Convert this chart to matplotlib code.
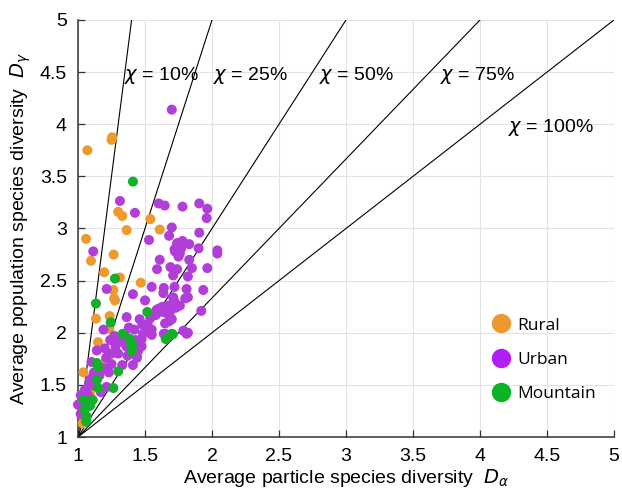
import matplotlib
matplotlib.use("Agg")
import matplotlib.pyplot as plt
import numpy as np
from matplotlib.lines import Line2D

plt.rcParams["font.family"] = ["Liberation Sans", "DejaVu Sans"]
plt.rcParams["mathtext.fontset"] = "dejavusans"

# chi reference lines: D_gamma - 1 = (D_alpha - 1) / chi
chi_values = [0.10, 0.25, 0.50, 0.75, 1.00]
chi_labels = ["10%", "25%", "50%", "75%", "100%"]
chi_label_x = [1.34, 2.01, 2.80, 3.70, 4.21]
chi_label_y = [4.47, 4.47, 4.47, 4.47, 3.97]

rural_x = [1.07, 1.255, 1.25, 1.06, 1.30, 1.33, 1.363, 1.54, 1.61, 1.097,
           1.266, 1.196, 1.313, 1.264, 1.27, 1.468, 1.134, 1.236, 1.234, 1.15,
           1.21, 1.22, 1.04, 1.09, 1.035, 1.035, 1.276]
rural_y = [3.75, 3.875, 3.85, 2.90, 3.16, 3.12, 2.985, 3.09, 2.99, 2.69,
           2.75, 2.58, 2.53, 2.41, 2.33, 2.48, 2.135, 2.16, 2.04, 1.91,
           1.74, 1.70, 1.62, 1.41, 1.23, 1.13, 2.31]

urban_x = [1.70, 1.313, 1.425, 1.602, 1.647, 1.78, 1.905, 1.965, 1.96, 1.70,
           1.905, 1.53, 1.68, 1.78, 1.83, 1.736, 1.724, 1.75, 1.77, 1.76,
           1.74, 1.72, 1.75, 1.90, 2.04, 2.04, 1.114, 1.61, 1.83, 1.59,
           1.69, 1.74, 1.85, 1.71, 1.82, 1.965, 1.214, 1.41, 1.55, 1.64,
           1.72, 1.81, 1.935, 1.637, 1.71, 1.82, 1.80, 1.50, 1.60, 1.63,
           1.67, 1.70, 1.686, 1.66, 1.73, 1.76, 1.92, 1.65, 1.70, 1.68,
           1.54, 1.363, 1.46, 1.19, 1.42, 1.53, 1.485, 1.55, 1.64, 1.786,
           1.82, 1.81, 1.24, 1.31, 1.475, 1.14, 1.28, 1.30, 1.475, 1.45,
           1.25, 1.21, 1.10, 1.33, 1.41, 1.19, 1.114, 1.16, 1.077, 1.214,
           1.02, 1.075, 1.00, 1.02, 1.43, 1.44, 1.36, 1.37, 1.25, 1.13,
           1.05, 1.08, 1.03, 1.20, 1.35, 1.17, 1.587, 1.65, 1.72, 1.55,
           1.65, 1.48, 1.38, 1.34, 1.27, 1.23, 1.12, 1.09, 1.06, 1.52,
           1.58, 1.63, 1.44, 1.39, 1.29]
urban_y = [4.14, 3.264, 3.15, 3.24, 3.22, 3.21, 3.24, 3.19, 3.10, 3.01,
           2.96, 2.89, 2.93, 2.88, 2.85, 2.83, 2.78, 2.73, 2.81, 2.76,
           2.86, 2.80, 2.79, 2.81, 2.79, 2.76, 2.78, 2.70, 2.70, 2.61,
           2.63, 2.61, 2.62, 2.55, 2.54, 2.62, 2.42, 2.37, 2.44, 2.43,
           2.44, 2.42, 2.41, 2.38, 2.34, 2.34, 2.33, 2.31, 2.23, 2.25,
           2.26, 2.27, 2.20, 2.19, 2.24, 2.26, 2.21, 2.09, 2.13, 2.11,
           2.14, 2.15, 2.13, 2.03, 2.03, 2.03, 1.99, 1.98, 1.99, 2.02,
           2.00, 1.99, 1.93, 1.94, 1.94, 1.83, 1.87, 1.80, 1.87, 1.83,
           1.80, 1.76, 1.72, 1.69, 1.69, 1.66, 1.59, 1.59, 1.48, 1.48,
           1.40, 1.40, 1.31, 1.22, 1.93, 1.80, 1.87, 1.78, 1.70, 1.52,
           1.45, 1.30, 1.27, 1.85, 1.98, 1.43, 2.22, 2.24, 2.30, 2.03,
           1.99, 2.08, 2.05, 1.91, 1.97, 1.62, 1.62, 1.55, 1.36, 2.08,
           2.17, 2.20, 1.76, 1.83, 1.90]

mountain_x = [1.41, 1.276, 1.134, 1.244, 1.517, 1.333, 1.388, 1.39, 1.41, 1.40,
              1.655, 1.707, 1.14, 1.15, 1.30, 1.264, 1.15, 1.142, 1.04, 1.08,
              1.11, 1.05, 1.065, 1.06, 1.09, 1.70]
mountain_y = [3.45, 2.52, 2.28, 2.10, 2.20, 1.99, 1.94, 1.91, 1.87, 1.82,
              1.94, 1.985, 1.71, 1.67, 1.63, 1.47, 1.47, 1.55, 1.355, 1.34,
              1.355, 1.26, 1.195, 1.15, 1.30, 1.99]

groups = ["Rural", "Urban", "Mountain"]
group_colors = ["#ee9a2e", "#b13ed9", "#13b02a"]
legend_colors = ["#ec9a2e", "#b01ef5", "#0bb325"]

fig = plt.figure(figsize=(6.22, 4.97), dpi=100)
ax = fig.add_axes([0.1254, 0.1207, 0.8617, 0.8391])

for chi, lab, lx, ly in zip(chi_values, chi_labels, chi_label_x, chi_label_y):
    xe = min(5.0, 1.0 + 4.0 * chi)
    ax.plot([1.0, xe], [1.0, 1.0 + (xe - 1.0) / chi], color="black", lw=0.8, zorder=2)
    ax.text(lx, ly, r"$\chi$ = " + lab, fontsize=14, va="center", ha="left", zorder=4)

for gx, gy, c in zip([rural_x, urban_x, mountain_x], [rural_y, urban_y, mountain_y], group_colors):
    ax.scatter(gx, gy, s=52, color=c, edgecolors="none", zorder=3, clip_on=False)

handles = [Line2D([], [], marker="o", ls="none", markersize=14, color=c, markeredgewidth=0)
           for c in legend_colors]
leg = ax.legend(handles, groups, loc="center left", bbox_to_anchor=(0.744, 0.185),
                frameon=False, handlelength=1.0, handletextpad=0.45, labelspacing=1.05,
                prop={"family": "Open Sans", "size": 12.5})

ax.set_xlim(1, 5)
ax.set_ylim(1, 5)
ax.set_xticks(np.arange(1, 5.01, 0.5))
ax.set_yticks(np.arange(1, 5.01, 0.5))
ax.set_xticklabels(["1", "1.5", "2", "2.5", "3", "3.5", "4", "4.5", "5"])
ax.set_yticklabels(["1", "1.5", "2", "2.5", "3", "3.5", "4", "4.5", "5"])
ax.grid(True, color="#e2e2e2", lw=0.8, zorder=0)
ax.set_axisbelow(True)
for s in ["top", "right"]:
    ax.spines[s].set_visible(False)
for s in ["left", "bottom"]:
    ax.spines[s].set_color("#333333")
    ax.spines[s].set_linewidth(1.1)
ax.tick_params(direction="in", length=5, width=0.9, color="#333333",
               labelsize=14, pad=8)

ax.set_xlabel(r"Average particle species diversity  $D_{\alpha}$", fontsize=14, labelpad=1)
ax.set_ylabel(r"Average population species diversity  $D_{\gamma}$", fontsize=14, labelpad=5)

fig.savefig("out.png", dpi=100)
